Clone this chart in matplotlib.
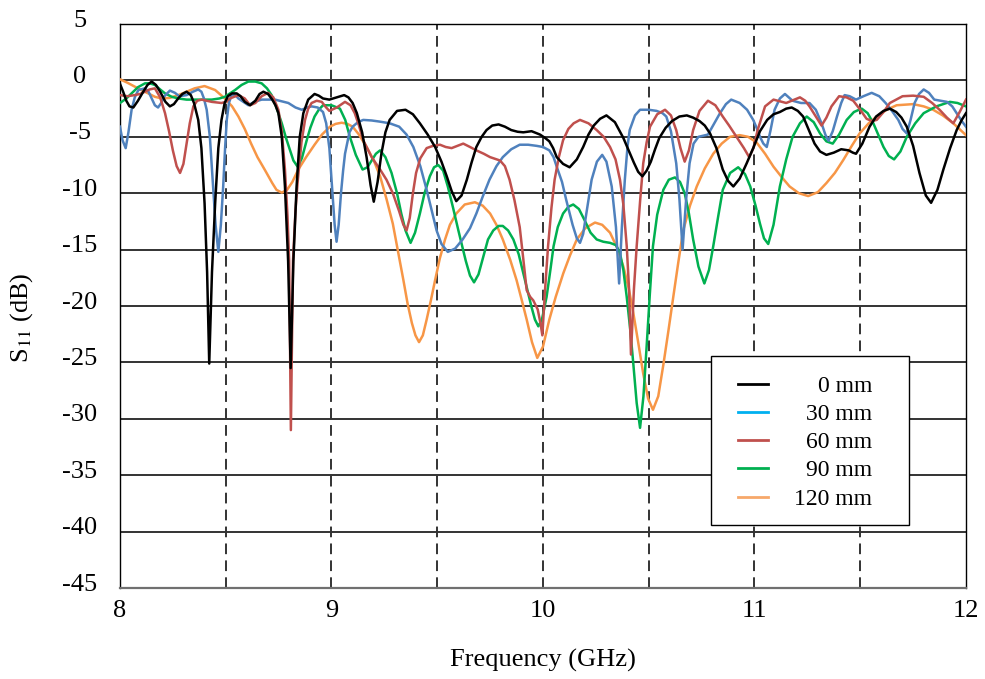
import matplotlib
matplotlib.use('Agg')
import matplotlib.pyplot as plt
import matplotlib.transforms as mtransforms
from matplotlib.patches import Rectangle
from matplotlib.lines import Line2D

plt.rcParams['font.family'] = ['Liberation Serif', 'DejaVu Serif']
plt.rcParams['mathtext.fontset'] = 'stix'
plt.rcParams['axes.unicode_minus'] = False

# measured S11 (dB) against frequency (GHz), one pair of lists per spacing
f_0mm = [8.0, 8.015, 8.03, 8.045, 8.063, 8.085, 8.11, 8.13, 8.15, 8.17, 8.19, 8.215, 8.236,
         8.255, 8.275, 8.295, 8.315, 8.335, 8.35, 8.37, 8.385, 8.40, 8.412, 8.422, 8.435,
         8.45, 8.465, 8.48, 8.495, 8.51, 8.53, 8.552, 8.57, 8.59, 8.615, 8.64, 8.66, 8.678,
         8.70, 8.72, 8.735, 8.749, 8.765, 8.78, 8.795, 8.807, 8.82, 8.835, 8.85, 8.867,
         8.89, 8.92, 8.94, 8.96, 8.99, 9.025, 9.06, 9.08, 9.10, 9.12, 9.145, 9.166, 9.185,
         9.20, 9.218, 9.236, 9.255, 9.275, 9.31, 9.35, 9.385, 9.418, 9.455, 9.49, 9.52,
         9.545, 9.568, 9.59, 9.615, 9.64, 9.662, 9.685, 9.71, 9.733, 9.76, 9.79, 9.82,
         9.85, 9.88, 9.907, 9.946, 9.986, 10.01, 10.03, 10.048, 10.065, 10.095, 10.126,
         10.16, 10.19, 10.215, 10.24, 10.27, 10.30, 10.34, 10.38, 10.43, 10.45, 10.47,
         10.49, 10.51, 10.53, 10.55, 10.58, 10.61, 10.645, 10.68, 10.71, 10.74, 10.765,
         10.79, 10.82, 10.85, 10.875, 10.9, 10.93, 10.963, 10.994, 11.026, 11.06, 11.09,
         11.12, 11.15, 11.176, 11.205, 11.23, 11.255, 11.284, 11.31, 11.34, 11.375, 11.41,
         11.445, 11.465, 11.48, 11.51, 11.544, 11.575, 11.61, 11.64, 11.67, 11.695, 11.72,
         11.75, 11.78, 11.81, 11.835, 11.865, 11.893, 11.925, 11.956, 11.98, 12.0]
s_0mm = [-0.3, -1.0, -1.8, -2.3, -2.4, -1.8, -1.0, -0.4, -0.1, -0.4, -1.0, -1.9, -2.3,
         -2.1, -1.6, -1.2, -1.0, -1.3, -2.0, -3.5, -6.0, -10.9, -17.0, -25.1, -17.0,
         -10.9, -6.0, -3.5, -2.0, -1.4, -1.15, -1.15, -1.4, -1.9, -2.2, -1.8, -1.2, -1.0,
         -1.2, -1.7, -2.2, -2.9, -5.0, -9.4, -16.0, -25.5, -16.0, -9.4, -5.0, -2.9,
         -1.7, -1.2, -1.35, -1.6, -1.7, -1.5, -1.3, -1.5, -2.0, -2.9, -4.6, -6.8, -9.3,
         -10.75, -9.0, -6.5, -4.6, -3.5, -2.7, -2.6, -3.0, -3.8, -4.8, -5.9, -7.2,
         -8.5, -9.8, -10.7, -10.2, -8.8, -7.3, -5.9, -5.0, -4.4, -4.0, -3.9, -4.1,
         -4.4, -4.55, -4.6, -4.5, -4.8, -5.1, -5.4, -6.0, -6.8, -7.4, -7.7,
         -7.0, -5.9, -4.8, -4.0, -3.4, -3.1, -3.7, -5.1, -7.3, -8.1, -8.5,
         -8.0, -7.2, -6.1, -5.1, -4.2, -3.6, -3.2, -3.1, -3.3, -3.6, -4.0,
         -4.7, -6.0, -7.9, -8.9, -9.4, -8.7, -7.35, -6.0, -4.5, -3.5, -3.0,
         -2.8, -2.5, -2.4, -2.7, -3.2, -4.3, -5.6, -6.3, -6.6, -6.4, -6.1,
         -6.2, -6.4, -6.5, -5.6, -4.1, -3.2, -2.7, -2.5, -2.8, -3.3, -4.1,
         -5.8, -8.2, -10.2, -10.85, -9.7, -7.9, -6.0, -4.4, -3.5, -2.9]

f_30mm = [8.0, 8.012, 8.027, 8.04, 8.055, 8.07, 8.087, 8.118, 8.135, 8.15, 8.165, 8.18,
          8.195, 8.21, 8.236, 8.26, 8.28, 8.315, 8.345, 8.37, 8.385, 8.397, 8.41, 8.425,
          8.44, 8.452, 8.465, 8.477, 8.488, 8.497, 8.505, 8.515, 8.528, 8.545, 8.56, 8.607,
          8.635, 8.67, 8.733, 8.796, 8.83, 8.86, 8.885, 8.906, 8.935, 8.96, 8.975, 8.99,
          9.005, 9.015, 9.024, 9.034, 9.045, 9.055, 9.064, 9.085, 9.10, 9.125, 9.15, 9.19,
          9.228, 9.275, 9.32, 9.355, 9.387, 9.42, 9.45, 9.475, 9.497, 9.52, 9.55, 9.585,
          9.62, 9.655, 9.685, 9.715, 9.747, 9.78, 9.81, 9.85, 9.89, 9.93, 9.97, 10.0,
          10.03, 10.05, 10.065, 10.09, 10.11, 10.14, 10.16, 10.175, 10.19, 10.21, 10.23,
          10.255, 10.28, 10.30, 10.325, 10.345, 10.36, 10.373, 10.387, 10.40, 10.41,
          10.435, 10.459, 10.5, 10.537, 10.565, 10.583, 10.605, 10.63, 10.645, 10.66,
          10.677, 10.693, 10.712, 10.735, 10.78, 10.81, 10.837, 10.865, 10.89, 10.93,
          10.965, 10.994, 11.01, 11.026, 11.042, 11.058, 11.075, 11.095, 11.12, 11.144,
          11.18, 11.22, 11.26, 11.29, 11.317, 11.335, 11.35, 11.37, 11.39, 11.41, 11.426,
          11.45, 11.48, 11.515, 11.554, 11.59, 11.62, 11.65, 11.68, 11.70, 11.72, 11.738,
          11.757, 11.778, 11.8, 11.825, 11.85, 11.91, 11.935, 11.956, 11.98, 12.0]
s_30mm = [-4.1, -5.3, -6.0, -4.6, -2.6, -1.5, -0.85, -0.7, -1.0, -1.6, -2.2, -2.4,
          -2.0, -1.4, -0.9, -1.1, -1.4, -1.3, -1.0, -0.8, -1.0, -1.6, -2.6, -5.0,
          -9.4, -12.8, -15.2, -12.8, -9.4, -6.0, -3.5, -2.0, -1.3, -1.3, -1.6, -2.2,
          -1.9, -1.7, -1.7, -2.0, -2.4, -2.6, -2.4, -2.3, -2.4, -2.8, -3.8, -6.0,
          -10.0, -12.8, -14.3, -12.8, -10.0, -8.0, -6.5, -4.6, -4.1, -3.7, -3.5, -3.55,
          -3.65, -3.8, -4.1, -4.8, -5.9, -7.6, -9.7, -11.6, -13.3, -14.5, -15.2, -14.9,
          -14.1, -13.1, -11.8, -10.3, -8.8, -7.6, -6.8, -6.1, -5.7, -5.7, -5.8, -5.9,
          -6.2, -6.8, -7.65, -9.0, -10.6, -12.8, -14.0, -14.4, -13.6, -11.2, -8.8,
          -7.2, -6.6, -7.2, -9.4, -13.0, -18.0, -13.0, -8.8, -5.8, -4.4,
          -3.1, -2.6, -2.6, -2.7, -2.9, -3.2, -4.5, -7.35, -10.5, -15.0,
          -10.5, -7.35, -5.6, -5.0, -4.8, -3.8, -2.9, -2.1, -1.7, -2.0,
          -2.6, -3.5, -4.2, -5.0, -5.6, -5.9, -4.5, -2.6, -1.6, -1.2,
          -1.8, -2.0, -2.0, -2.6, -3.8, -4.8, -5.35, -4.5, -3.2, -2.0, -1.3,
          -1.4, -1.7, -1.4, -1.1, -1.4, -2.0, -2.7, -3.5, -4.3, -4.7, -3.5,
          -2.0, -1.2, -0.8, -1.1, -1.7, -1.9, -2.3, -2.9, -3.6, -4.1]

f_60mm = [8.0, 8.035, 8.07, 8.095, 8.118, 8.14, 8.165, 8.19, 8.213, 8.232, 8.25, 8.268,
          8.284, 8.30, 8.315, 8.33, 8.347, 8.365, 8.386, 8.434, 8.48, 8.50, 8.52, 8.56,
          8.59, 8.615, 8.64, 8.67, 8.70, 8.725, 8.749, 8.765, 8.78, 8.792, 8.800, 8.808,
          8.818, 8.83, 8.84, 8.858, 8.875, 8.89, 8.906, 8.93, 8.954, 8.975, 8.99, 9.025,
          9.064, 9.09, 9.11, 9.13, 9.15, 9.19, 9.23, 9.26, 9.29, 9.32, 9.34, 9.355, 9.37,
          9.385, 9.40, 9.42, 9.45, 9.48, 9.513, 9.54, 9.568, 9.595, 9.623, 9.655, 9.685,
          9.72, 9.75, 9.797, 9.82, 9.842, 9.865, 9.89, 9.905, 9.923, 9.94, 9.954, 9.975,
          9.988, 9.997, 10.01, 10.024, 10.04, 10.055, 10.075, 10.095, 10.12, 10.145,
          10.175, 10.215, 10.254, 10.287, 10.317, 10.343, 10.364, 10.38, 10.396, 10.407,
          10.416, 10.43, 10.443, 10.46, 10.474, 10.49, 10.506, 10.54, 10.577, 10.605,
          10.63, 10.65, 10.67, 10.69, 10.71, 10.74, 10.78, 10.815, 10.85, 10.88, 10.915,
          10.95, 10.975, 10.995, 11.015, 11.05, 11.09, 11.15, 11.215, 11.24, 11.26, 11.29,
          11.317, 11.34, 11.364, 11.40, 11.435, 11.467, 11.50, 11.53, 11.555, 11.578,
          11.61, 11.64, 11.70, 11.75, 11.8, 11.84, 11.875, 11.91, 11.94, 11.97, 12.0]
s_60mm = [-1.3, -1.4, -1.3, -1.2, -1.0, -0.8, -0.7, -1.5, -2.9, -4.5, -6.2, -7.6,
          -8.2, -7.4, -5.6, -3.8, -2.3, -1.8, -1.7, -1.9, -2.0, -1.9, -1.6, -1.3,
          -1.6, -2.2, -2.0, -1.4, -1.1, -1.5, -2.6, -4.5, -7.9, -12.0, -16.0, -31.0,
          -16.0, -11.5, -9.0, -5.5, -3.5, -2.5, -2.0, -1.8, -1.9, -2.4, -2.7, -2.4,
          -1.9, -2.2, -2.9, -4.0, -5.3, -6.8, -7.9, -8.8, -10.0, -11.6, -12.8, -13.3, -12.2,
          -10.0, -8.2, -6.9, -6.0, -5.8, -5.7, -5.9, -6.0, -5.8, -5.6, -5.9, -6.2,
          -6.5, -6.8, -7.1, -7.6, -8.8, -10.6, -13.0, -15.5, -18.6, -19.2, -19.5, -20.3,
          -21.5, -22.6, -18.5, -14.7, -11.3, -8.8, -6.8, -5.3, -4.3, -3.8,
          -3.5, -3.8, -4.4, -5.0, -5.9, -7.0, -8.8, -11.0, -14.7, -18.5,
          -24.3, -18.5, -14.7, -10.5, -7.35, -5.5, -4.1, -3.0, -2.6, -3.1,
          -4.4, -6.0, -7.2, -6.2, -4.4, -2.7, -1.8, -2.2, -3.2, -4.0, -5.0,
          -6.0, -6.8, -6.0, -4.4, -2.3, -1.7, -2.0, -1.5, -1.8, -2.3, -3.2,
          -4.0, -3.3, -2.3, -1.4, -1.5, -1.8, -2.6, -3.4, -3.6, -3.5,
          -2.8, -2.0, -1.4, -1.35, -1.45, -2.0, -2.6, -3.3, -3.8, -2.8, -1.7]

f_90mm = [8.0, 8.03, 8.055, 8.085, 8.118, 8.14, 8.165, 8.19, 8.213, 8.245, 8.276, 8.315,
          8.353, 8.434, 8.47, 8.496, 8.52, 8.544, 8.575, 8.607, 8.64, 8.67, 8.695, 8.717,
          8.74, 8.765, 8.785, 8.804, 8.82, 8.84, 8.86, 8.883, 8.90, 8.92, 8.94, 8.96, 9.0,
          9.04, 9.065, 9.087, 9.115, 9.147, 9.17, 9.19, 9.21, 9.23, 9.255, 9.284, 9.31,
          9.33, 9.35, 9.374, 9.395, 9.418, 9.44, 9.465, 9.485, 9.505, 9.528, 9.55, 9.575,
          9.60, 9.635, 9.655, 9.674, 9.695, 9.718, 9.74, 9.765, 9.79, 9.81, 9.835, 9.86,
          9.885, 9.907, 9.928, 9.946, 9.962, 9.978, 9.995, 10.017, 10.035, 10.05, 10.07,
          10.095, 10.12, 10.143, 10.17, 10.197, 10.225, 10.254, 10.285, 10.317, 10.345,
          10.364, 10.38, 10.396, 10.412, 10.427, 10.443, 10.459, 10.475, 10.49, 10.505,
          10.52, 10.54, 10.569, 10.595, 10.624, 10.648, 10.67, 10.69, 10.71, 10.735,
          10.763, 10.785, 10.805, 10.828, 10.85, 10.885, 10.923, 10.955, 10.98, 11.005,
          11.026, 11.045, 11.065, 11.09, 11.12, 11.15, 11.18, 11.215, 11.247, 11.28, 11.31,
          11.34, 11.37, 11.40, 11.436, 11.47, 11.507, 11.535, 11.562, 11.585, 11.61,
          11.635, 11.66, 11.69, 11.72, 11.76, 11.8, 11.86, 11.924, 11.96, 12.0]
s_90mm = [-2.0, -1.6, -1.15, -0.6, -0.26, -0.25, -0.4, -0.8, -1.15, -1.45, -1.6, -1.7,
          -1.7, -1.7, -1.6, -1.45, -1.15, -0.85, -0.4, -0.1, -0.1, -0.26, -0.7, -1.3,
          -2.4, -3.8, -5.1, -6.2, -7.1, -7.65, -6.9, -5.3, -4.2, -3.2, -2.6, -2.2, -2.2,
          -2.5, -3.5, -5.0, -6.6, -7.9, -7.7, -7.1, -6.5, -6.2, -6.8, -8.2, -10.0,
          -11.8, -13.3, -14.4, -13.5, -11.8, -10.0, -8.5, -7.7, -7.5, -8.0, -9.4, -11.3,
          -13.3, -16.0, -17.3, -17.9, -17.2, -15.6, -14.1, -13.3, -12.9, -12.9, -13.3, -14.1,
          -15.4, -17.1, -18.7, -20.1, -21.2, -21.8, -21.2, -19.2, -16.8, -14.7, -13.0,
          -11.8, -11.2, -11.0, -11.4, -12.4, -13.5, -14.1, -14.3, -14.4, -14.6,
          -15.3, -16.8, -19.2, -22.0, -25.1, -28.6, -30.8, -28.0, -23.6, -19.0,
          -14.7, -11.9, -9.7, -8.8, -8.6, -9.0, -10.0, -11.8, -14.1, -16.5,
          -18.0, -16.8, -14.7, -12.1, -9.7, -8.2, -7.7, -8.3, -9.4, -11.1,
          -12.7, -14.0, -14.5, -12.8, -9.4, -7.0, -5.0, -3.8, -3.2, -3.7, -4.7,
          -5.4, -5.6, -4.8, -3.5, -2.8, -2.5, -2.9, -3.8, -4.8, -5.9,
          -6.7, -7.0, -6.3, -5.0, -3.8, -2.9, -2.3, -1.9, -2.0, -2.3]

f_120mm = [8.0, 8.035, 8.07, 8.10, 8.134, 8.165, 8.197, 8.235, 8.276, 8.315, 8.353, 8.40,
           8.45, 8.496, 8.53, 8.56, 8.59, 8.62, 8.65, 8.684, 8.72, 8.74, 8.765, 8.79,
           8.815, 8.843, 8.88, 8.92, 8.955, 8.993, 9.02, 9.048, 9.075, 9.10, 9.13, 9.166,
           9.20, 9.23, 9.26, 9.29, 9.315, 9.34, 9.36, 9.38, 9.397, 9.414, 9.432, 9.45,
           9.47, 9.49, 9.512, 9.537, 9.56, 9.59, 9.63, 9.678, 9.715, 9.75, 9.78, 9.81,
           9.845, 9.875, 9.90, 9.923, 9.948, 9.973, 10.0, 10.03, 10.06, 10.096, 10.128,
           10.16, 10.20, 10.246, 10.28, 10.317, 10.35, 10.38, 10.405, 10.427, 10.45,
           10.474, 10.497, 10.52, 10.545, 10.57, 10.593, 10.616, 10.64, 10.663, 10.695,
           10.727, 10.765, 10.805, 10.845, 10.884, 10.93, 10.97, 11.01, 11.05, 11.09,
           11.13, 11.166, 11.21, 11.254, 11.30, 11.34, 11.38, 11.42, 11.46, 11.497, 11.54,
           11.578, 11.625, 11.672, 11.75, 11.80, 11.845, 11.89, 11.94, 12.0]
s_120mm = [0.1, -0.2, -0.55, -0.85, -1.15, -1.45, -1.6, -1.55, -1.3, -1.0, -0.7, -0.5,
           -0.85, -1.6, -2.3, -3.2, -4.3, -5.6, -6.8, -7.9, -9.1, -9.7, -9.95, -9.7,
           -9.0, -7.9, -6.8, -5.7, -4.8, -4.1, -3.85, -3.75, -3.85, -4.1, -4.8, -5.9,
           -7.1, -8.5, -10.5, -12.7, -15.2, -17.7, -19.8, -21.5, -22.6, -23.2, -22.6, -21.2,
           -19.5, -17.7, -15.8, -14.1, -12.8, -11.8, -11.0, -10.8, -11.1, -11.8, -12.8, -14.1,
           -15.9, -17.7, -19.5, -21.2, -23.2, -24.6, -23.6, -21.2, -19.2, -17.1, -15.5,
           -14.1, -13.1, -12.6, -12.8, -13.5, -14.8, -16.5, -18.4, -20.6, -23.2,
           -26.0, -28.2, -29.2, -28.0, -25.1, -22.2, -19.2, -16.1, -13.3, -11.1,
           -9.4, -7.8, -6.5, -5.6, -5.0, -4.85, -5.0, -5.5, -6.5, -7.65,
           -8.6, -9.4, -10.0, -10.25, -9.9, -9.1, -8.2, -7.05, -5.8, -4.7, -3.8,
           -3.2, -2.6, -2.2, -2.1, -2.3, -2.6, -3.1, -3.8, -4.85]

labels = ['0 mm', '30 mm', '60 mm', '90 mm', '120 mm']
line_colors = ['#000000', '#4F81BD', '#C0504D', '#00B050', '#F79646']
legend_colors = ['#000000', '#00B0F0', '#C0504D', '#00B050', '#F7A86A']

freqs = [f_0mm, f_30mm, f_60mm, f_90mm, f_120mm]
s11 = [s_0mm, s_30mm, s_60mm, s_90mm, s_120mm]

fig = plt.figure(figsize=(9.85, 6.79), dpi=100)
ax = fig.add_axes([0.1218, 0.134, 0.8589, 0.8306])

ax.set_xlim(8, 12)
ax.set_ylim(-45, 5)

# solid horizontal grid every 5 dB, dashed verticals every 0.5 GHz
for y in range(-40, 5, 5):
    ax.axhline(y, color='#333333', lw=1.4, zorder=1)
for x in [8.5, 9.0, 9.5, 10.0, 10.5, 11.0, 11.5]:
    ax.axvline(x, color='#333333', lw=1.4, ls=(0, (5.5, 3.2)), zorder=1)

# draw black last so it sits on top
for i in [4, 3, 1, 2, 0]:
    ax.plot(freqs[i], s11[i], color=line_colors[i], lw=1.8, zorder=3,
            solid_joinstyle='round')

ax.set_xticks([8, 9, 10, 11, 12])
ax.set_yticks(range(-45, 10, 5))
ax.tick_params(axis='both', length=0, labelsize=19)
ax.tick_params(axis='x', pad=8.5)
ax.tick_params(axis='y', pad=28.8)
up = mtransforms.ScaledTranslation(0, 6 / 100, fig.dpi_scale_trans)
for lab in ax.get_yticklabels():
    lab.set_ha('center')
    lab.set_transform(lab.get_transform() + up)

for sp in ax.spines.values():
    sp.set_color('#000000')
    sp.set_linewidth(1.0)
ax.spines['bottom'].set_color('#707070')
ax.spines['bottom'].set_linewidth(1.6)

ax.set_xlabel('Frequency (GHz)', fontsize=19)
ax.xaxis.set_label_coords(0.5, -0.128)
ax.xaxis.label.set_va('center')
ax.set_ylabel('S$_{11}$ (dB)', fontsize=19)
ax.yaxis.set_label_coords(-0.116, 0.479)
ax.yaxis.label.set_va('center')

# legend box with right-aligned labels
ax.add_patch(Rectangle((0.699, 0.1117), 0.2336, 0.2996, transform=ax.transAxes,
                       facecolor='white', edgecolor='black', lw=1.0, zorder=5))
rows = [0.3612, 0.3115, 0.2624, 0.2122, 0.1619]
for lab, col, ry in zip(labels, legend_colors, rows):
    ax.add_line(Line2D([0.7305, 0.766], [ry, ry], transform=ax.transAxes,
                       color=col, lw=2.0, zorder=6))
    ax.text(0.8892, ry - 0.0142, lab, transform=ax.transAxes, fontsize=17,
            ha='right', va='baseline', zorder=6)

fig.savefig('out.png', dpi=100)
